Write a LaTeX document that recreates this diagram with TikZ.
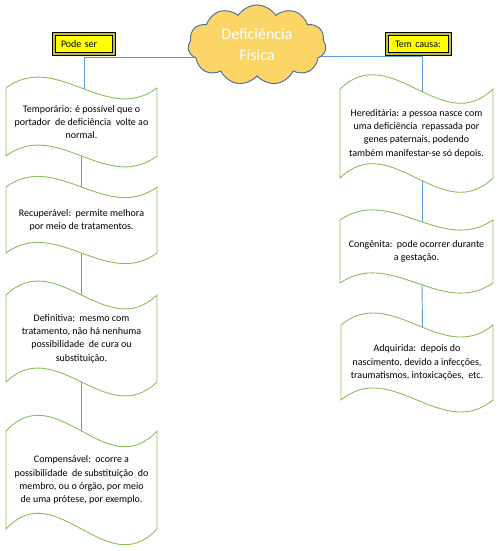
\documentclass[tikz,border=0pt]{standalone}
\usepackage{fontspec}
\setmainfont{Carlito}
\usetikzlibrary{shapes.symbols,backgrounds}
\definecolor{wavegreen}{RGB}{140,190,90}
\definecolor{connblue}{RGB}{91,155,213}
\definecolor{cloudfill}{RGB}{252,213,103}
\definecolor{cloudline}{RGB}{84,114,150}
\definecolor{labyellow}{RGB}{255,255,0}
\tikzset{
  wave/.style={draw=wavegreen,fill=white,line width=0.9pt},
  wtext/.style={inner sep=0pt,align=center,font=\fontsize{10}{13.3}\selectfont},
  conn/.style={draw=connblue,line width=0.9pt},
  lab/.style={rectangle,fill=labyellow,draw=black,line width=0.7pt,double=yellow!75!black,
    double distance=2pt,minimum height=20pt,inner ysep=0pt,align=left,
    font=\fontsize{10}{12}\selectfont},
  cloudnode/.style={cloud,cloud puffs=11,cloud puff arc=115,aspect=1.7,draw=cloudline,
    fill=cloudfill,line width=1pt,minimum width=138pt,minimum height=80pt,inner sep=0pt,
    text=white,align=center,font=\fontsize{16}{21}\selectfont}
}
\newcommand\wvbox[6]{%
  \pgfmathsetmacro\wvA{(#5-#4)/6*10/3}%
  \pgfmathsetmacro\wvC{#2+(#3-#2)/3}%
  \pgfmathsetmacro\wvD{#2+2*(#3-#2)/3}%
  \pgfmathsetmacro\wvH{#5-#4}%
  \pgfmathsetmacro\wvW{#3-#2-8}%
  \pgfmathsetmacro\wvX{(#2+#3)/2}%
  \pgfmathsetmacro\wvY{(#4+#5)/2}%
  \draw[wave] (#2,#4) .. controls (\wvC,#4-\wvA) and (\wvD,#4+\wvA) .. (#3,#4)
    -- (#3,#5) .. controls (\wvD,#5+\wvA) and (\wvC,#5-\wvA) .. (#2,#5) -- cycle;
  \node[wtext,minimum height=\wvH pt,minimum width=\wvW pt] (#1) at (\wvX,\wvY) {#6};
}
\begin{document}
\begin{tikzpicture}[x=1pt,y=-1pt]
\useasboundingbox (0,0) rectangle (500,551);
% left column
\wvbox{b1}{6}{157}{88}{156}{Temporário: é possível que o\\portador\ \ de deficiência\ \ volte ao\\normal.}
\wvbox{b2}{6}{157}{187}{253}{Recuperável:\ \ permite melhora\\por meio de tratamentos.}
\wvbox{b3}{6}{157}{295}{382}{Definitiva:\ \ mesmo com\\tratamento, não há nenhuma\\possibilidade\ \ de cura ou\\substituição.}
\wvbox{b4}{6}{157}{431}{529}{Compensável:\ \ ocorre a\\possibilidade\ \ de substituição\ \ do\\membro, ou o órgão, por meio\\de uma prótese, por exemplo.}
% right column
\wvbox{r1}{340}{493}{89}{178}{Hereditária: a pessoa nasce com\\uma deficiência\ \ repassada por\\genes paternais, podendo\\também manifestar-se só depois.}
\wvbox{r2}{340}{493}{220}{283}{Congênita:\ \ pode ocorrer durante\\a gestação.}
\wvbox{r3}{341}{493}{325}{400}{Adquirida:\ \ depois do\\nascimento, devido a infecções,\\traumatismos, intoxicações,\ \ etc.}
% cloud
\node[cloudnode] (cl) at (257,45) {Deficiência\\Física};
% labels
\node[lab,minimum width=60pt,text width=46pt,inner xsep=7pt] (ps) at (84,44) {Pode ser};
\node[lab,minimum width=63pt,text width=47pt,inner xsep=8pt] (tc) at (418.5,44) {Tem causa:};
% connectors
\coordinate (cL) at (215,57);
\coordinate (cR) at (300,56);
\begin{pgfonlayer}{background}
\draw[conn] (cL) -| ([xshift=2.5pt,yshift=-2pt]b1.north);
\draw[conn] (b1.south) -- (b2.north);
\draw[conn] (b2.south) -- (b3.north);
\draw[conn] (b3.south) -- (b4.north);
\draw[conn] (cR) -| ([xshift=5.5pt,yshift=-3pt]r1.north);
\draw[conn] ([xshift=5.5pt]r1.south) -- ([xshift=5.5pt,yshift=-3pt]r2.north);
\draw[conn] ([xshift=5.5pt]r2.south) -- ([xshift=5.5pt,yshift=-3pt]r3.north);
\end{pgfonlayer}
\end{tikzpicture}
\end{document}
